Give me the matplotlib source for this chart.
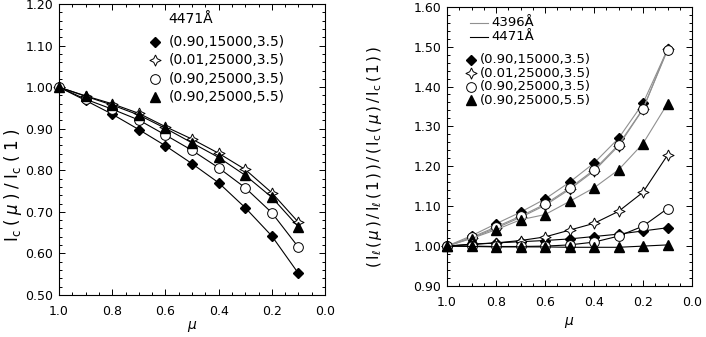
import matplotlib
matplotlib.use('Agg')
import matplotlib.pyplot as plt
import numpy as np

plt.rcParams['font.family'] = 'DejaVu Sans'
plt.rcParams['mathtext.fontset'] = 'dejavusans'

mu = [1.0, 0.9, 0.8, 0.7, 0.6, 0.5, 0.4, 0.3, 0.2, 0.1]
models = ['(0.90,15000,3.5)', '(0.01,25000,3.5)', '(0.90,25000,3.5)', '(0.90,25000,5.5)']

# left panel: Ic(mu)/Ic(1) at 4471A
ic_d = [1.00, 0.968, 0.935, 0.898, 0.859, 0.816, 0.770, 0.710, 0.642, 0.552]
ic_s = [1.00, 0.979, 0.960, 0.937, 0.905, 0.875, 0.841, 0.802, 0.746, 0.675]
ic_o = [1.00, 0.971, 0.947, 0.921, 0.885, 0.848, 0.806, 0.758, 0.698, 0.615]
ic_t = [1.00, 0.978, 0.957, 0.933, 0.901, 0.866, 0.831, 0.788, 0.735, 0.664]

# right panel: 4396A (grey lines)
r4396_d = [1.00, 1.026, 1.056, 1.085, 1.118, 1.160, 1.208, 1.270, 1.358, 1.493]
r4396_s = [1.00, 1.020, 1.045, 1.072, 1.102, 1.142, 1.188, 1.251, 1.343, 1.494]
r4396_o = [1.00, 1.022, 1.048, 1.075, 1.105, 1.145, 1.191, 1.254, 1.344, 1.491]
r4396_t = [1.00, 1.019, 1.041, 1.066, 1.079, 1.112, 1.146, 1.191, 1.257, 1.357]
# right panel: 4471A (black lines)
r4471_d = [1.00, 1.004, 1.008, 1.011, 1.014, 1.018, 1.024, 1.030, 1.038, 1.046]
r4471_s = [1.00, 1.005, 1.008, 1.014, 1.023, 1.040, 1.057, 1.087, 1.135, 1.228]
r4471_o = [1.00, 1.000, 0.999, 0.999, 1.000, 1.003, 1.010, 1.025, 1.050, 1.094]
r4471_t = [1.00, 0.999, 0.998, 0.998, 0.998, 0.997, 0.997, 0.997, 1.000, 1.003]

# four pointed star marker
ang = np.arange(8) * np.pi / 4 + np.pi / 2
rad = np.where(np.arange(8) % 2 == 0, 1.0, 0.45)
star = list(zip(rad * np.cos(ang), rad * np.sin(ang)))
star.append(star[0])

styles = [dict(marker='D', ms=5.2, mfc='black', mec='black'),
          dict(marker=star, ms=8, mfc='white', mec='black', mew=0.7),
          dict(marker='o', ms=7, mfc='white', mec='black', mew=0.7),
          dict(marker='^', ms=7.2, mfc='black', mec='black')]

W, H = 706, 337
fig = plt.figure(figsize=(W / 100, H / 100), dpi=100)


def box(x0, y0, x1, y1):
    return [x0 / W, 1 - y1 / H, (x1 - x0) / W, (y1 - y0) / H]


def fx(x):
    return x / W


def fy(y):
    return 1 - y / H


def style_axes(ax, ylo, yhi, yt):
    ax.set_xlim(1.0, 0.0)
    ax.set_ylim(ylo, yhi)
    ax.set_xticks(np.arange(0, 1.01, 0.2))
    ax.set_xticks(np.arange(0, 1.01, 0.05), minor=True)
    ax.set_xticklabels(['%.1f' % v for v in np.arange(0, 1.01, 0.2)])
    ax.set_yticks(yt)
    ax.set_yticklabels(['%.2f' % v for v in yt])
    ax.set_yticks(np.arange(ylo, yhi + 0.001, 0.02), minor=True)
    ax.tick_params(which='both', direction='in', top=True, right=True,
                   labelsize=9, width=0.7, colors='black')
    ax.tick_params(axis='x', pad=7)
    ax.tick_params(axis='y', pad=4)
    ax.tick_params(which='major', length=4)
    ax.tick_params(which='minor', length=2)
    for s in ax.spines.values():
        s.set_linewidth(0.8)


# left panel
ax1 = fig.add_axes(box(59, 4, 325, 295))
for y, st in zip([ic_d, ic_s, ic_o, ic_t], styles):
    ax1.plot(mu, y, color='black', lw=0.8, clip_on=False, **st)
style_axes(ax1, 0.50, 1.20, np.arange(0.5, 1.201, 0.1))
fig.text(fx(192), fy(326), r'$\mu$', ha='center', va='center', fontsize=10)
fig.text(fx(13), fy(185),
         r'$\mathrm{I}_\mathrm{c}\;(\;\mu\;)\;/\;\mathrm{I}_\mathrm{c}\;(\;1\;)$',
         rotation=90, ha='center', va='center', fontsize=12)

fig.text(fx(191), fy(19), '4471Å', ha='center', va='center', fontsize=10)
for k, (lab, st) in enumerate(zip(models, styles)):
    yy = 42 + k * 18.3
    fig.add_artist(plt.Line2D([fx(155)], [fy(yy)], ls='none', **st))
    fig.text(fx(169), fy(yy), lab, ha='left', va='center', fontsize=10)

# right panel
ax2 = fig.add_axes(box(447, 6.7, 692, 286))
for y, st in zip([r4396_d, r4396_s, r4396_o, r4396_t], styles):
    ax2.plot(mu, y, color='#909090', lw=0.8, clip_on=False, **st)
for y, st in zip([r4471_d, r4471_s, r4471_o, r4471_t], styles):
    ax2.plot(mu, y, color='black', lw=0.8, clip_on=False, **st)
style_axes(ax2, 0.90, 1.60, np.arange(0.9, 1.601, 0.1))
fig.text(fx(569), fy(323), r'$\mu$', ha='center', va='center', fontsize=10)
fig.text(fx(374), fy(157),
         r'$(\,\mathrm{I}_\ell\,(\,\mu\,)\,/\,\mathrm{I}_\ell\,(\,1\,)\,)\,/\,'
         r'(\,\mathrm{I}_\mathrm{c}\,(\,\mu\,)\,/\,\mathrm{I}_\mathrm{c}\,(\,1\,)\,)$',
         rotation=90, ha='center', va='center', fontsize=11)

for k, (lab, col) in enumerate(zip(['4396Å', '4471Å'], ['#909090', 'black'])):
    yy = 23 + k * 14
    fig.add_artist(plt.Line2D([fx(470), fx(488)], [fy(yy), fy(yy)], color=col, lw=0.8))
    fig.text(fx(491), fy(yy), lab, ha='left', va='center', fontsize=9.5)
for k, (lab, st) in enumerate(zip(models, styles)):
    yy = 60 + k * 13.4
    fig.add_artist(plt.Line2D([fx(471)], [fy(yy)], ls='none', **st))
    fig.text(fx(480), fy(yy), lab, ha='left', va='center', fontsize=9.5)

fig.savefig('out.png', dpi=100)
